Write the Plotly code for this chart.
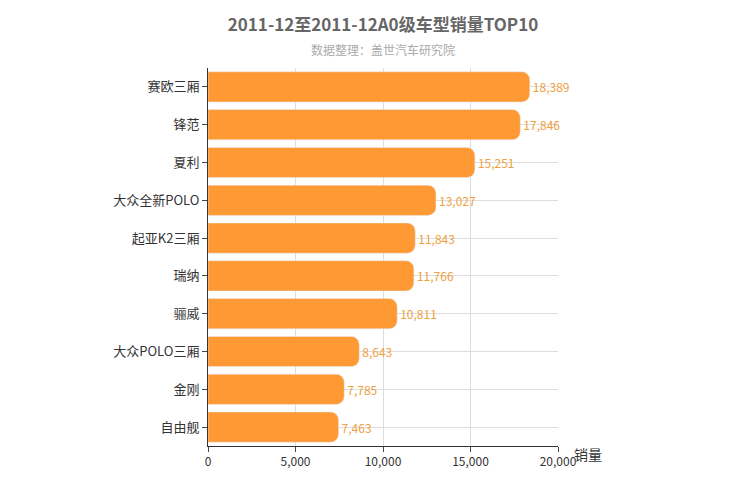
import plotly.graph_objects as go

models = ["赛欧三厢", "锋范", "夏利", "大众全新POLO", "起亚K2三厢",
          "瑞纳", "骊威", "大众POLO三厢", "金刚", "自由舰"]
sales = [18389, 17846, 15251, 13027, 11843, 11766, 10811, 8643, 7785, 7463]
x_ticks = [0, 5000, 10000, 15000, 20000]

font = "Noto Sans CJK SC"

fig = go.Figure(go.Bar(
    x=sales,
    y=models,
    orientation="h",
    marker=dict(color="#ff9933", cornerradius=8),
    width=0.8,
    text=[f"{v:,}" for v in sales],
    textposition="outside",
    textfont=dict(color="#f0a040", size=12, family=font),
    cliponaxis=False,
))

fig.update_layout(
    width=750, height=500,
    margin=dict(l=200, r=200, t=60, b=62),
    plot_bgcolor="white",
    paper_bgcolor="white",
    font=dict(family=font, color="#333"),
    showlegend=False,
    title=dict(text="<b>2011-12至2011-12A0级车型销量TOP10</b>", x=0.5, y=0.965,
               xanchor="center", yanchor="middle", font=dict(size=17, color="#666")),
    annotations=[
        dict(text="数据整理：盖世汽车研究院", x=0.5, y=1.048, xref="paper", yref="paper",
             yanchor="middle", showarrow=False, font=dict(size=12, color="#aaa")),
        dict(text="销量", x=1.0, y=0, xref="paper", yref="paper", xanchor="left",
             yanchor="top", xshift=14, yshift=4, showarrow=False, font=dict(size=14, color="#333")),
    ],
)
fig.update_xaxes(range=[0, 20000], tickvals=x_ticks, tickformat=",", showgrid=True,
                 gridcolor="#ddd", showline=True, linecolor="#333", ticks="outside",
                 ticklen=5, tickfont=dict(size=12, color="#333"), zeroline=False)
fig.update_yaxes(autorange="reversed", showgrid=True, gridcolor="#ddd", showline=True,
                 linecolor="#333", ticks="outside", ticklen=5,
                 tickfont=dict(size=13, color="#333"))

fig.write_html("out.html")
